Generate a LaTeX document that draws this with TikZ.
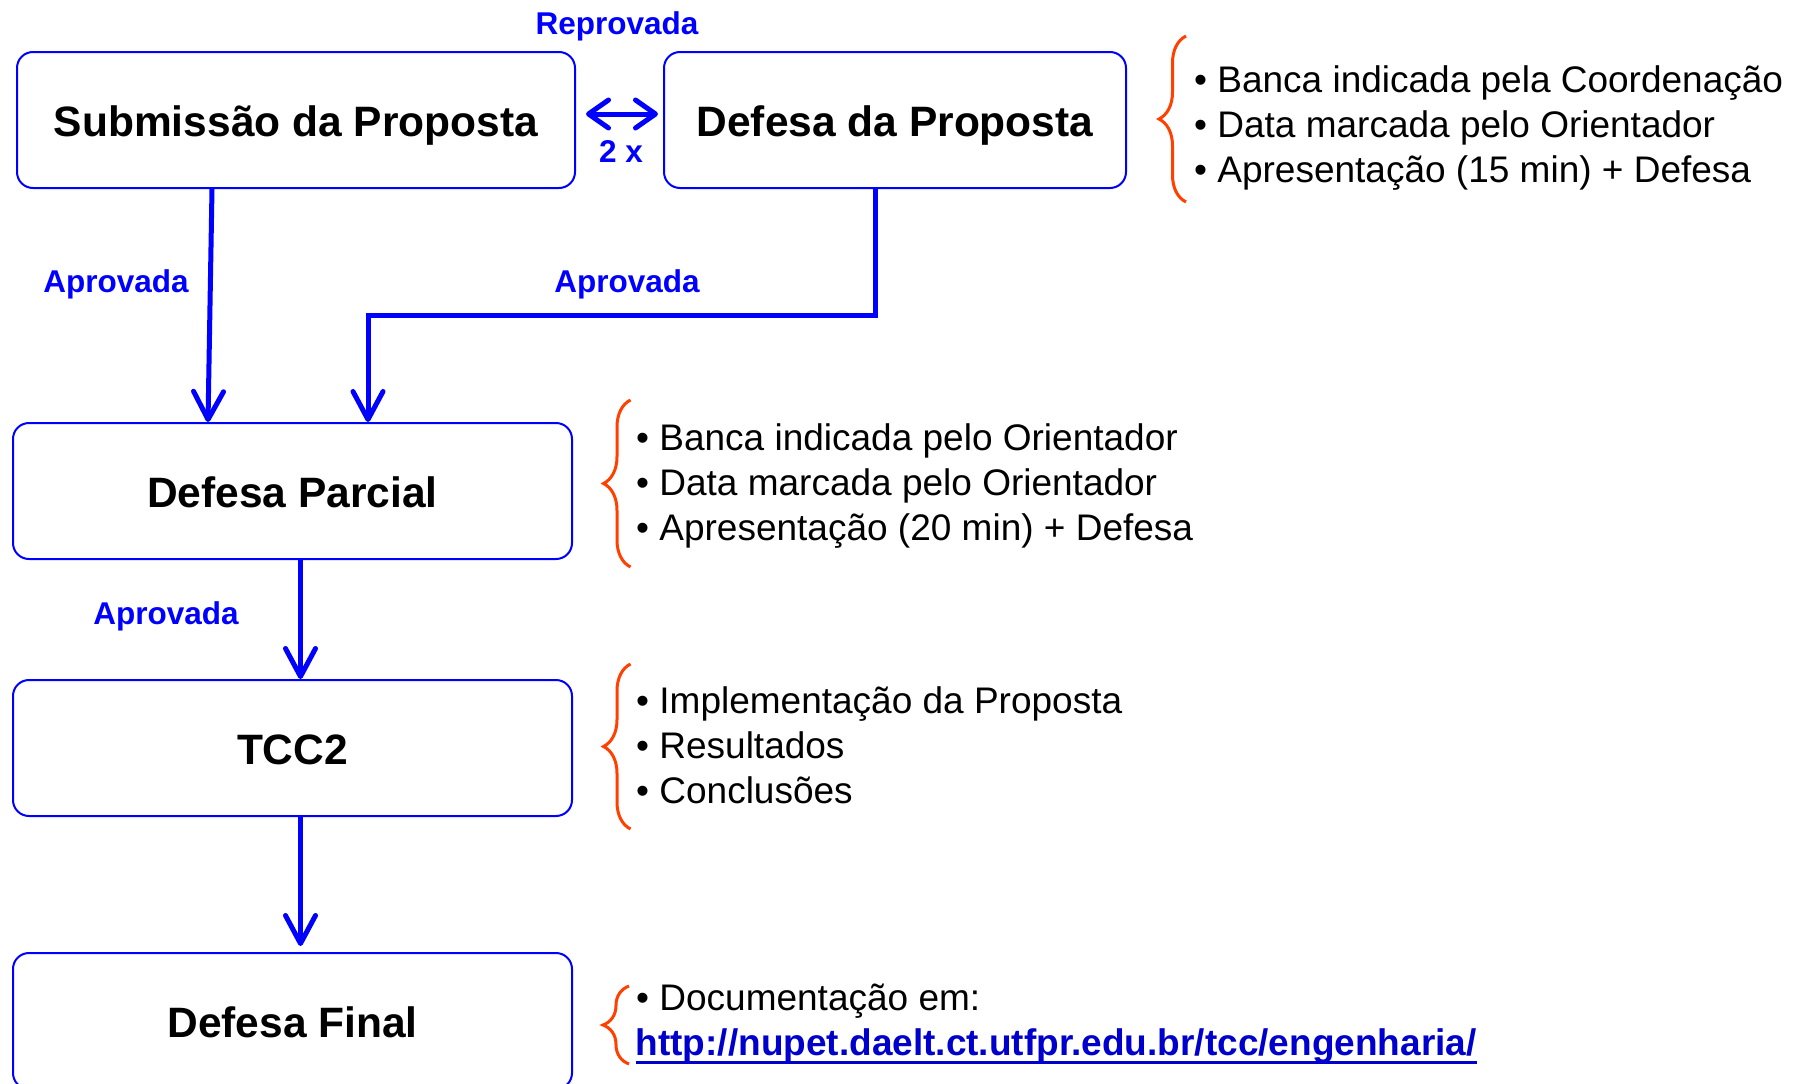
\documentclass[tikz,border=0pt]{standalone}
\usepackage{fontspec}
\setsansfont{Liberation Sans}
\usetikzlibrary{arrows.meta}
\usetikzlibrary{decorations.pathreplacing}
\definecolor{braceRed}{RGB}{255,64,0}
\definecolor{linkBlue}{RGB}{0,0,204}

\begin{document}
\begin{tikzpicture}[x = 1pt, y = -1pt, font=\sffamily]
	\tikzstyle{boxStyle} = [draw = blue, line width = 2pt, rounded corners = 16pt, minimum height = 136pt, inner sep = 0pt, text height = 32pt, text depth = 0pt, font = \sffamily\bfseries\fontsize{42.5}{51}\selectfont]
	\tikzstyle{labelStyle} = [anchor = base, text = blue, inner sep = 0pt, font = \sffamily\bfseries\fontsize{31.5}{38}\selectfont]
	\tikzstyle{itemStyle} = [anchor = base west, inner sep = 0pt, font = \sffamily\fontsize{37}{45}\selectfont]
	\tikzstyle{arrowStyle} = [draw = blue, line width = 5pt, -{Straight Barb[length = 28pt, width = 30pt, round]}]
	\tikzstyle{braceStyle} = [draw = braceRed, line width = 3pt, decorate, decoration = {brace, amplitude = 27pt}]
	\useasboundingbox (0, 0) rectangle (1804, 1084);
	\node[boxStyle, minimum width = 558pt] (sub) at (296, 120) {Submissão da Proposta};
	\node[boxStyle, minimum width = 462pt] (prop) at (895, 120) {Defesa da Proposta};
	\node[boxStyle, minimum width = 559pt] (parc) at (292.5, 491) {Defesa Parcial};
	\node[boxStyle, minimum width = 559pt] (tcc) at (292.5, 748) {TCC2};
	\node[boxStyle, minimum width = 559pt] (fin) at (292.5, 1021) {Defesa Final};
	\coordinate (bend) at (875, 315);
	\draw[arrowStyle] ([xshift = 196pt]sub.south west) -- ([xshift = 196pt]parc.north west);
	\draw[arrowStyle] (prop.south -| bend) -- (bend) -| ([xshift = 356pt]parc.north west);
	\draw[arrowStyle] ([xshift = 8pt]parc.south) -- ([xshift = 8pt]tcc.north);
	\draw[arrowStyle, shorten > = 6pt] ([xshift = 8pt]tcc.south) -- ([xshift = 8pt]fin.north);
	\draw[arrowStyle, {Straight Barb[length = 20pt, width = 28pt, round]}-{Straight Barb[length = 20pt, width = 28pt, round]}] ([shift = {(10pt, 6pt)}]sub.east) -- ([shift = {(-5pt, 6pt)}]prop.west);
	\node[labelStyle] (rep) at (617, 34) {Reprovada};
	\node[labelStyle] (twice) at (621, 162) {2 x};
	\node[labelStyle] (apr0) at (116, 292) {Aprovada};
	\node[labelStyle] (apr1) at (627, 292) {Aprovada};
	\node[labelStyle] (apr2) at (166, 624) {Aprovada};
	% notes beside the boxes
	\draw[braceStyle] (1186, 202) -- (1186, 36);
	\node[itemStyle] (i0) at (1194, 92) {• Banca indicada pela Coordenação};
	\node[itemStyle] (i1) at (1194, 137) {• Data marcada pelo Orientador};
	\node[itemStyle] (i2) at (1194, 182) {• Apresentação (15 min) + Defesa};
	\draw[braceStyle] (630.5, 567) -- (630.5, 400);
	\node[itemStyle] (i3) at (636, 450) {• Banca indicada pelo Orientador};
	\node[itemStyle] (i4) at (636, 495) {• Data marcada pelo Orientador};
	\node[itemStyle] (i5) at (636, 540) {• Apresentação (20 min) + Defesa};
	\draw[braceStyle] (630.5, 829) -- (630.5, 664);
	\node[itemStyle] (i6) at (636, 713) {• Implementação da Proposta};
	\node[itemStyle] (i7) at (636, 758) {• Resultados};
	\node[itemStyle] (i8) at (636, 803) {• Conclusões};
	\draw[braceStyle, decoration = {brace, amplitude = 26pt}] (629, 1064) -- (629, 986);
	\node[itemStyle] (i9) at (636, 1010) {• Documentação em:};
	\node[itemStyle, text = linkBlue, font = \sffamily\bfseries\fontsize{37}{45}\selectfont] (url) at (635.5, 1055) {http://nupet.daelt.ct.utfpr.edu.br/tcc/engenharia/};
	\draw[linkBlue, line width = 3pt] ([yshift = -7pt]url.base west) -- ([yshift = -7pt]url.base east);
\end{tikzpicture}
\end{document}
